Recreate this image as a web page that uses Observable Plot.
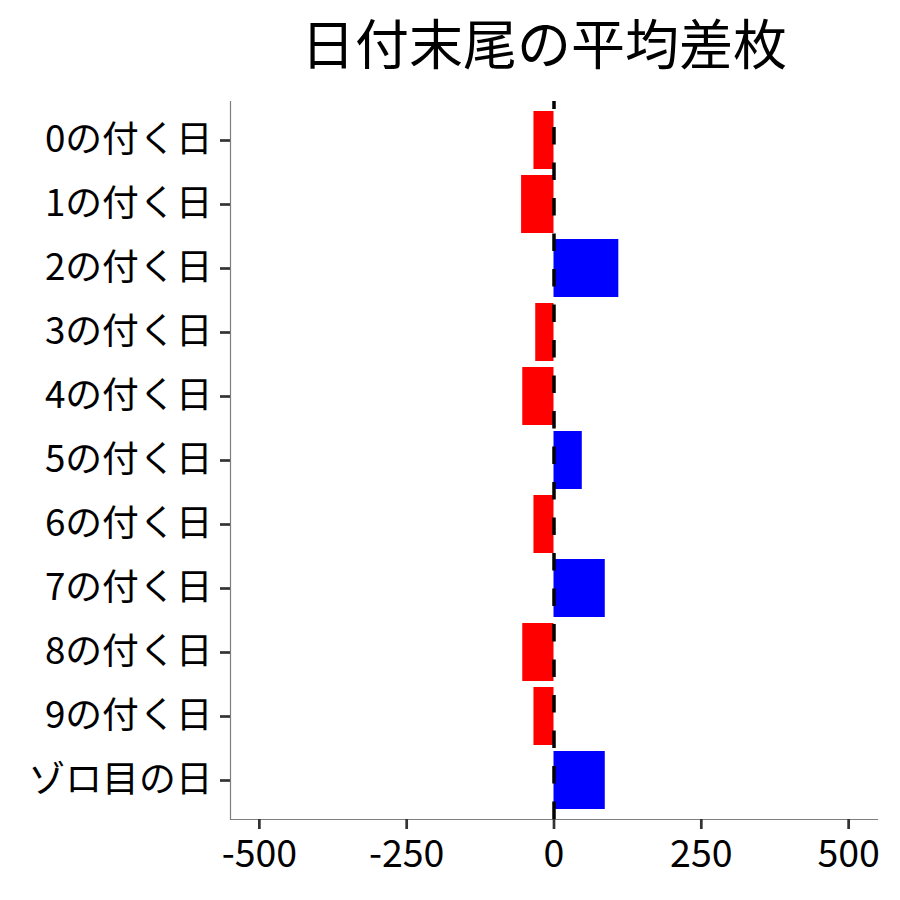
<!DOCTYPE html>
<html>
<head>
<meta charset="utf-8">
<script src="https://cdn.jsdelivr.net/npm/d3@7"></script>
<script src="https://cdn.jsdelivr.net/npm/@observablehq/plot@0.6"></script>
<style>
  html, body { margin: 0; padding: 0; background: #fff; }
  #title {
    width: 900px; height: 100px; box-sizing: border-box;
    padding-left: 188px; text-align: center;
    font-family: "Noto Sans CJK JP", sans-serif; font-size: 54px;
    line-height: 84px; color: #000;
  }
  svg { display: block; }
</style>
</head>
<body>
<div id="title">日付末尾の平均差枚</div>
<div id="chart"></div>
<script>
const categories = ["0の付く日","1の付く日","2の付く日","3の付く日","4の付く日","5の付く日","6の付く日","7の付く日","8の付く日","9の付く日","ゾロ目の日"];
const values = [-34, -55, 110, -31, -53, 48, -34, 87, -53, -34, 87];
const xTicks = [-500, -250, 0, 250, 500];
const xDomain = [-549, 549];

const data = categories.map((c, i) => ({cat: c, v: values[i]}));

const chart = Plot.plot({
  width: 900,
  height: 800,
  marginTop: 1,
  marginBottom: 81,
  marginLeft: 230,
  marginRight: 23,
  style: {fontFamily: "Noto Sans CJK JP", background: "#fff", color: "#000"},
  x: {domain: xDomain, ticks: xTicks, tickFormat: d => String(d), label: null},
  y: {domain: categories, paddingInner: 0.1, paddingOuter: 0.15, label: null},
  marks: [
    Plot.barX(data, {x: "v", y: "cat", fill: d => d.v < 0 ? "#FF0000" : "#0000FF"}),
    Plot.frame({anchor: "left", stroke: "#7f7f7f", strokeWidth: 1.2}),
    Plot.frame({anchor: "bottom", stroke: "#7f7f7f", strokeWidth: 1.2}),
    Plot.axisX({ticks: xTicks, tickFormat: d => String(d), tickSize: 10, tickPadding: 11, stroke: "#333", strokeWidth: 2.7, fill: "#000", fontSize: 37.5, label: null}),
    Plot.axisY({tickSize: 10, tickPadding: 8, stroke: "#333", strokeWidth: 2.7, fill: "#000", fontSize: 36.8, label: null}),
    Plot.ruleX([0], {stroke: "#000", strokeWidth: 3.5, strokeDasharray: "17.5,18", strokeDashoffset: 9.5})
  ]
});
document.getElementById("chart").appendChild(chart);
</script>
</body>
</html>
